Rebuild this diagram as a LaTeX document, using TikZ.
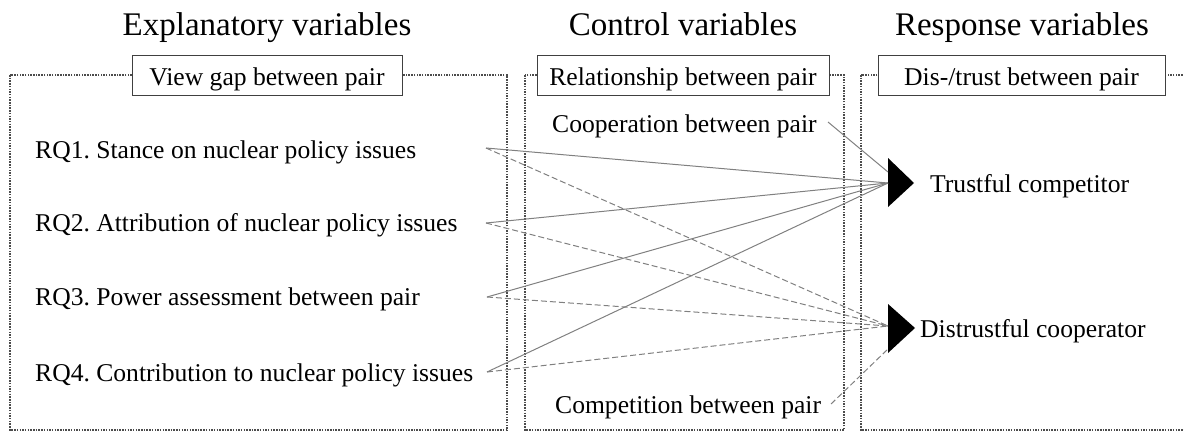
\documentclass[tikz,border=0pt]{standalone}
\usepackage{fontspec}
\setmainfont{Liberation Serif}
\frenchspacing
\begin{document}
\begin{tikzpicture}[x=1pt,y=-1pt,
  header/.style={anchor=base,font=\fontsize{33}{36}\selectfont,inner sep=0pt},
  body/.style={anchor=base west,font=\fontsize{25.6}{28}\selectfont,inner sep=0pt},
  titlebox/.style={draw=black!75,line width=1pt,fill=white,minimum height=40pt,inner sep=0pt,font=\fontsize{25.6}{28}\selectfont,text depth=2pt,text height=22pt},
  groupbox/.style={draw=black!70,line width=1.4pt,dash pattern=on 1.5pt off 1.2pt},
  solidlink/.style={draw=black!50,line width=1pt},
  dashlink/.style={draw=black!50,line width=1pt,dash pattern=on 6pt off 3pt},
  tip/.style={fill=black}]
\useasboundingbox (0,0) rectangle (1184,432);
\clip (0,0) rectangle (1184,432);
% group boxes
\draw[groupbox] (10,75) rectangle (507,430);
\draw[groupbox] (525,75) rectangle (844,430);
\draw[groupbox] (861,75) rectangle (1200,430);
% headers
\node[header] (h1) at (267,35) {Explanatory variables};
\node[header] (h2) at (683,35) {Control variables};
\node[header] (h3) at (1022,35) {Response variables};
% title boxes
\node[titlebox,minimum width=270pt] (t1) at (267,75) {View gap between pair};
\node[titlebox,minimum width=292pt] (t2) at (683,75) {Relationship between pair};
\node[titlebox,minimum width=287pt] (t3) at (1021.5,75) {Dis-/trust between pair};
% explanatory variables
\node[body] (rq1) at (35,158) {RQ1. Stance on nuclear policy issues};
\node[body] (rq2) at (35,231) {RQ2. Attribution of nuclear policy issues};
\node[body] (rq3) at (35,305) {RQ3. Power assessment between pair};
\node[body] (rq4) at (35,381) {RQ4. Contribution to nuclear policy issues};
\coordinate (s1) at (486,148);
\coordinate (s2) at (486,223);
\coordinate (s3) at (487,297);
\coordinate (s4) at (487,372);
% control variables
\node[body] (coop) at (552,132) {Cooperation between pair};
\node[body] (comp) at (555,413) {Competition between pair};
\coordinate (coopE) at (828,122);
\coordinate (compE) at (831,404);
% response variables
\fill[tip] (888,158) -- (914,183) -- (888,207) -- cycle;
\fill[tip] (888,304) -- (915,328) -- (888,353) -- cycle;
\coordinate (tc) at (888,183);
\coordinate (tcTop) at (888,172);
\coordinate (dc) at (888,326);
\coordinate (dcBot) at (888,349);
\node[body] (trust) at (930,192) {Trustful competitor};
\node[body] (distrust) at (920,337) {Distrustful cooperator};
% connectors
\draw[solidlink] (s1) -- (tc);
\draw[solidlink] (s2) -- (tc);
\draw[solidlink] (s3) -- (tc);
\draw[solidlink] (s4) -- (tc);
\draw[solidlink] (coopE) -- (tcTop);
\draw[dashlink] (s1) -- (dc);
\draw[dashlink] (s2) -- (dc);
\draw[dashlink] (s3) -- (dc);
\draw[dashlink] (s4) -- (dc);
\draw[dashlink] (compE) -- (dcBot);
\end{tikzpicture}
\end{document}
